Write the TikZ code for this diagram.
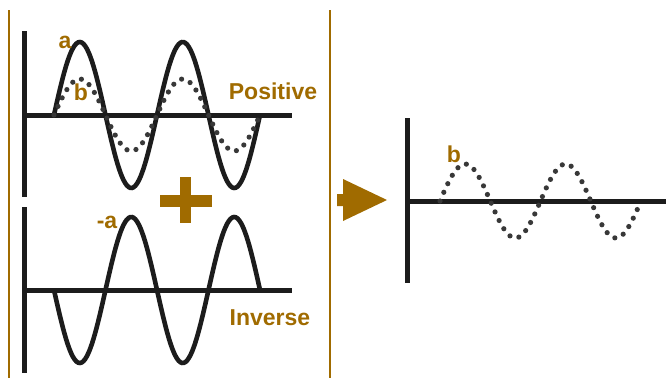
\documentclass[tikz,border=0pt]{standalone}
\usepackage{fontspec}
\setmainfont{Liberation Sans}
\usepackage{tikz}
\usetikzlibrary{arrows.meta,positioning,calc}
\definecolor{ochre}{HTML}{A06B00}
\definecolor{ink}{HTML}{1C1C1C}
\definecolor{dots}{HTML}{383838}

\tikzset{
  axisline/.style={ink,line width=5pt},
  wave/.style={ink,line width=4.6pt,smooth,samples=120},
  dotwave/.style={dots,line width=5.2pt,line cap=round,
    dash pattern=on 0pt off 9.5pt,smooth,samples=120},
  tag/.style={ochre,font=\fontsize{23}{25}\selectfont\bfseries,inner sep=0pt}
}

\begin{document}
\begin{tikzpicture}[x=1pt,y=-1pt,>=Latex]
      \useasboundingbox (0,0) rectangle (666,380);
      % frame of the left panel
      \draw[ochre,line width=2pt] (9,10) -- (9,378);
      \draw[ochre,line width=2pt] (330,10) -- (330,378);
      % positive signal
      \draw[axisline] (24,31) -- (24,197);
      \draw[axisline] (22,115) -- (292,115);
      \draw[wave] plot[domain=54:260] (\x,{115-73*sin(3.4951*(\x-54))});
      \draw[dotwave] plot[domain=54:260] (\x,{115-36*sin(3.4951*(\x-54))});
      \node[tag] (a) at (65,42) {a};
      \node[tag] (b) at (81,92) {b};
      \node[tag] (pos) at (273,91) {Positive};
      % plus sign
      \fill[ochre] (160,195) rectangle (212,207);
      \fill[ochre] (180,177) rectangle (191,223);
      % inverse signal
      \draw[axisline] (24,207) -- (24,373);
      \draw[axisline] (22,290) -- (292,290);
      \draw[wave] plot[domain=54:260] (\x,{290+73*sin(3.4951*(\x-54))});
      \node[tag] (na) at (107,222) {-a};
      \node[tag] (inv) at (270,318) {Inverse};
      % result arrow
      \fill[ochre] (337,194) -- (343,194) -- (343,179) -- (387,200)
        -- (343,221) -- (343,206) -- (337,206) -- cycle;
      % sum signal
      \draw[axisline] (407,118) -- (407,283);
      \draw[axisline] (405,201) -- (666,201);
      \draw[dotwave] plot[domain=440:641] (\x,{201-37*sin(3.5821*(\x-440))});
      \node[tag] (bsum) at (454,154) {b};
    \end{tikzpicture}
\end{document}
